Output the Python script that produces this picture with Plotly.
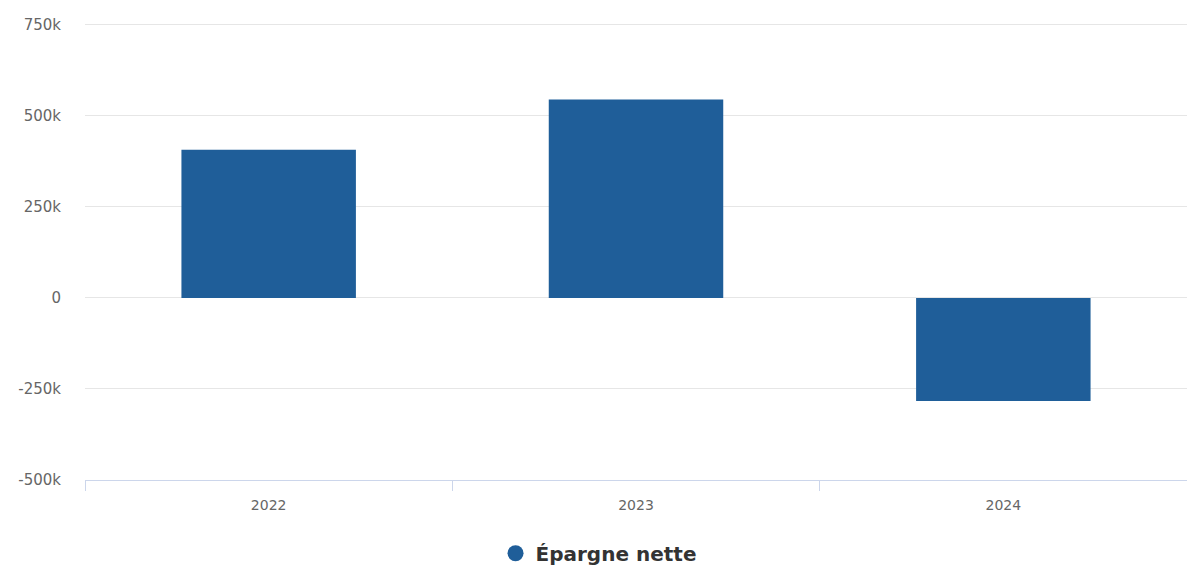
import plotly.graph_objects as go

years = ["2022", "2023", "2024"]
epargne_nette = [407000, 545000, -283000]
series_name = "Épargne nette"
tick_vals = [-500000, -250000, 0, 250000, 500000, 750000]
tick_text = ["-500k", "-250k", "0", "250k", "500k", "750k"]

color = "#1f5e99"

fig = go.Figure()
fig.add_trace(go.Bar(
    x=years, y=epargne_nette, name=series_name,
    marker=dict(color=color, line=dict(width=0)),
    width=0.475, showlegend=False,
))
fig.add_trace(go.Scatter(
    x=[None], y=[None], mode="markers", name=series_name,
    marker=dict(symbol="circle", size=18, color=color),
    showlegend=True,
))

fig.update_layout(
    width=1187, height=565,
    margin=dict(l=85, r=0, t=22, b=85, autoexpand=False),
    paper_bgcolor="white", plot_bgcolor="white",
    font=dict(family="DejaVu Sans", size=15, color="#666666"),
    legend=dict(
        orientation="h", x=0.466, xanchor="center",
        y=-0.16, yanchor="middle",
        font=dict(family="DejaVu Sans", size=20, color="#333333", weight="bold"),
        itemsizing="trace",
    ),
    bargap=0.525,
)
fig.update_xaxes(
    type="category", range=[-0.5, 2.5],
    showline=True, linecolor="#ccd6eb", linewidth=1,
    ticks="outside", tickson="boundaries", ticklen=10, tickcolor="#ccd6eb",
    showgrid=False, tickfont=dict(size=14, color="#666666"),
    ticklabelstandoff=12, automargin=False,
)
fig.update_yaxes(
    range=[-500000, 757500], tickvals=tick_vals, ticktext=tick_text,
    showgrid=True, gridcolor="#e6e6e6", gridwidth=1,
    zeroline=True, zerolinecolor="#e6e6e6", zerolinewidth=1,
    ticks="", ticklabelstandoff=23, tickfont=dict(size=15, color="#666666"),
    showline=False, automargin=False,
)

fig.write_html("out.html")
